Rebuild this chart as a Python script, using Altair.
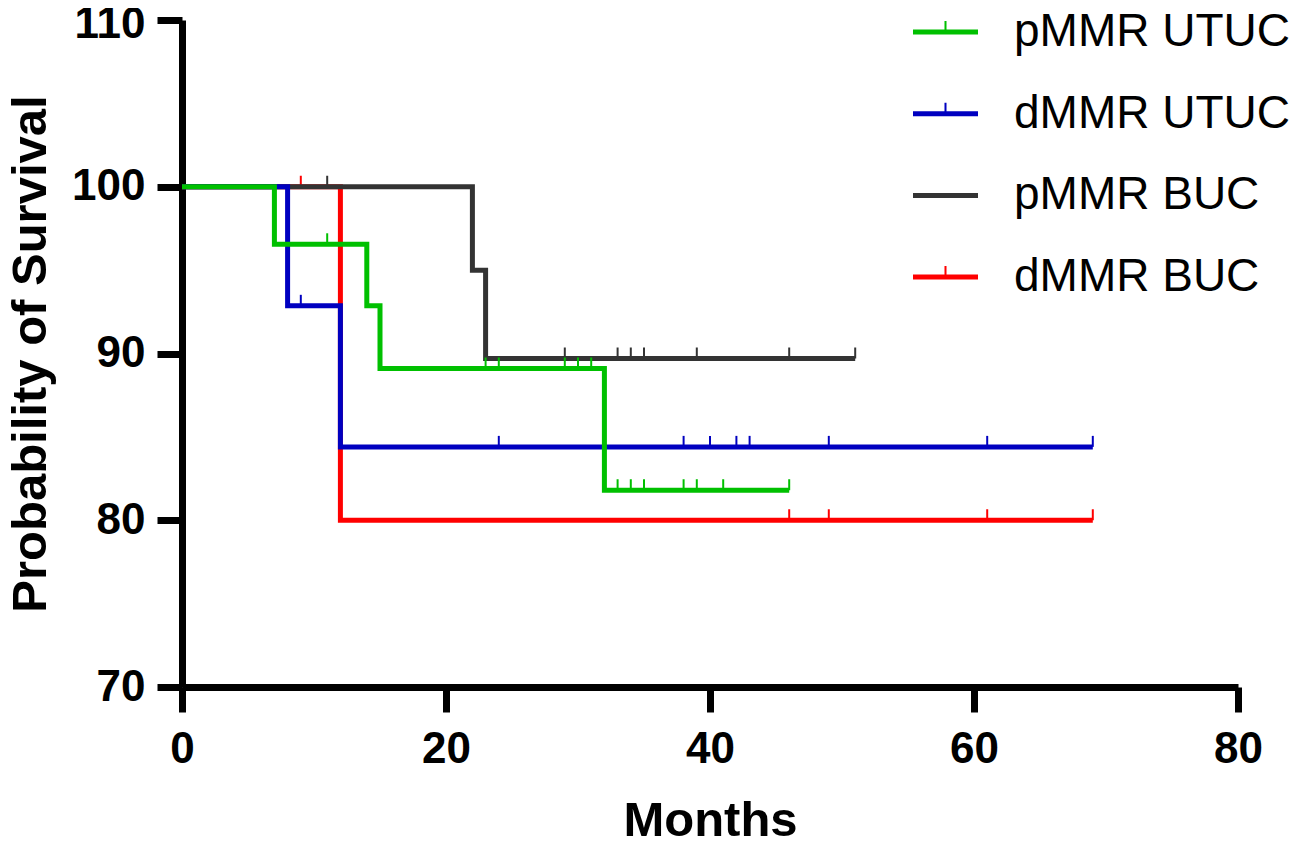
import altair as alt
import pandas as pd

# ---- data ----
series = ["pMMR UTUC", "dMMR UTUC", "pMMR BUC", "dMMR BUC"]
colors = ["#00C000", "#0000C0", "#333333", "#FF0000"]

green_t = [0, 7, 14, 15, 32, 46]
green_s = [100, 96.55, 92.86, 89.1, 81.8, 81.8]
green_c = [11, 23, 24, 29, 30, 31, 33, 34, 35, 38, 39, 41, 46]

blue_t = [0, 8, 12, 69]
blue_s = [100, 92.86, 84.4, 84.4]
blue_c = [9, 24, 38, 40, 42, 43, 49, 61, 69]

black_t = [0, 22, 23, 51]
black_s = [100, 95.0, 89.7, 89.7]
black_c = [11, 29, 33, 34, 35, 39, 46, 51]

red_t = [0, 12, 69]
red_s = [100, 80, 80]
red_c = [9, 46, 49, 61, 69]

x_ticks = [0, 20, 40, 60, 80]
y_ticks = [70, 80, 90, 100, 110]

# legend symbols (GraphPad style: line with a censor tick, pMMR BUC without)
P_TICK = "M-1,-0.077H-0.031V-0.34H0.031V-0.077H1V0.077H-1Z"
P_PLAIN = "M-1,-0.077H1V0.077H-1Z"
legend_shapes = [P_TICK, P_TICK, P_PLAIN, P_TICK]

curves = {
    "pMMR UTUC": (green_t, green_s, green_c),
    "dMMR UTUC": (blue_t, blue_s, blue_c),
    "pMMR BUC": (black_t, black_s, black_c),
    "dMMR BUC": (red_t, red_s, red_c),
}
draw_order = ["dMMR BUC", "pMMR BUC", "dMMR UTUC", "pMMR UTUC"]


def surv_at(ts, ss, t):
    v = ss[0]
    for ti, si in zip(ts, ss):
        if ti <= t:
            v = si
    return v


line_rows, cens_rows = [], []
for name in draw_order:
    ts, ss, cs_ = curves[name]
    for t, s in zip(ts, ss):
        line_rows.append({"series": name, "t": t, "s": s})
    for c in cs_:
        cens_rows.append({"series": name, "t": c, "s": surv_at(ts, ss, c)})

lines_df = pd.DataFrame(line_rows)
cens_df = pd.DataFrame(cens_rows)

FONT = "Liberation Sans"

xs = alt.Scale(domain=[0, 80], nice=False, zero=False)
ys = alt.Scale(domain=[70, 110], nice=False, zero=False)
cs = alt.Scale(domain=series, range=colors)

x_axis = alt.Axis(values=x_ticks, title="Months", grid=False, format="d", labelFlush=False)
y_axis = alt.Axis(values=y_ticks, title="Probability of Survival", grid=False, format="d",
                  labelFlush=False,
                  labelOffset=alt.condition("datum.value == 110", alt.value(4), alt.value(0)))

layers = []
for name in draw_order:
    ld = lines_df[lines_df["series"] == name]
    cd = cens_df[cens_df["series"] == name]
    line = alt.Chart(ld).mark_line(
        interpolate="step-after", strokeWidth=5, strokeCap="butt", strokeJoin="miter"
    ).encode(
        x=alt.X("t:Q", scale=xs, axis=x_axis),
        y=alt.Y("s:Q", scale=ys, axis=y_axis),
        color=alt.Color("series:N", scale=cs, legend=None),
    )
    ticks = alt.Chart(cd).mark_tick(
        orient="vertical", size=11, thickness=2, yOffset=-5.5, opacity=1
    ).encode(
        x="t:Q",
        y="s:Q",
        color=alt.Color("series:N", scale=cs, legend=None),
    )
    layers += [line, ticks]

LEG = dict(title=None, orient="none", legendX=731, legendY=-20.5, symbolOpacity=1)
legend_layer = alt.Chart(pd.DataFrame({"series": series, "t": [0] * 4, "s": [100] * 4})).mark_point(
    filled=True, opacity=0
).encode(
    x="t:Q",
    y="s:Q",
    color=alt.Color("series:N", scale=cs, legend=alt.Legend(**LEG)),
    shape=alt.Shape("series:N", scale=alt.Scale(domain=series, range=legend_shapes),
                    legend=alt.Legend(**LEG)),
)

chart = alt.layer(legend_layer, *layers).properties(
    width=1056, height=667,
    autosize=alt.AutoSizeParams(type="none"),
    padding={"left": 174, "top": 12, "right": 53, "bottom": 152},
).configure_view(stroke=None).configure_axis(
    domainColor="black", domainWidth=7, tickColor="black", tickWidth=7, tickSize=25,
    labelFont=FONT, labelFontSize=44, labelFontWeight="bold", labelColor="black",
    titleFont=FONT, titleFontSize=49, titleFontWeight="bold", titleColor="black",
).configure_axisX(
    labelPadding=15, titlePadding=25,
).configure_axisY(
    labelPadding=12, titlePadding=16,
).configure_legend(
    labelFont=FONT, labelFontSize=46, labelColor="black", labelLimit=600,
    symbolSize=4225, symbolStrokeWidth=0, rowPadding=25.7, labelOffset=36,
    padding=0, offset=0,
)

chart.save("out.html", embed_options={"renderer": "svg", "actions": False})
